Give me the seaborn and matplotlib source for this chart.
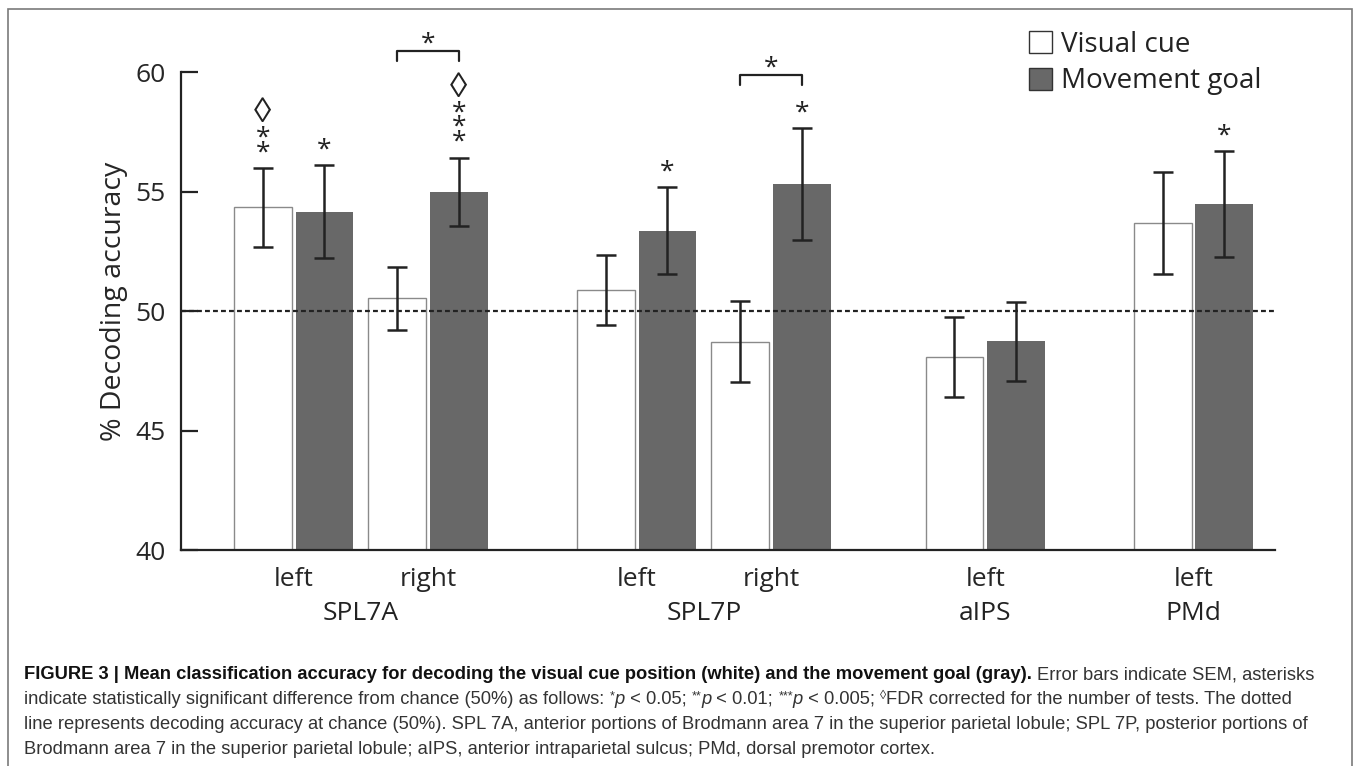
import numpy as np
import pandas as pd
import matplotlib
matplotlib.use("Agg")
import matplotlib.pyplot as plt
from matplotlib.patches import Patch, Rectangle
from matplotlib.lines import Line2D
import seaborn as sns

# Data
regions = ["SPL7A", "SPL7A", "SPL7P", "SPL7P", "aIPS", "PMd"]
hemispheres = ["left", "right", "left", "right", "left", "left"]
visual_mean = [54.34, 50.54, 50.87, 48.72, 48.08, 53.68]
visual_sem = [1.65, 1.31, 1.47, 1.70, 1.67, 2.13]
movement_mean = [54.17, 54.99, 53.36, 55.33, 48.73, 54.49]
movement_sem = [1.93, 1.44, 1.82, 2.34, 1.65, 2.22]

# significance marks: number of asterisks, FDR diamond
visual_stars = [2, 0, 0, 0, 0, 0]
visual_fdr = [True, False, False, False, False, False]
movement_stars = [1, 3, 1, 1, 0, 1]
movement_fdr = [False, True, False, False, False, False]
pair_diff = [False, True, False, True, False, False]

chance = 50
conditions = ["Visual cue", "Movement goal"]

# layout (x position of each bar pair)
positions = [0, 1, 2.554, 3.554, 5.15, 6.70]

FONT = ["Open Sans", "DejaVu Sans"]
CAP_FONT = ["Liberation Sans Narrow", "Liberation Sans", "DejaVu Sans"]
DIAMOND_FONT = ["Liberation Sans", "DejaVu Sans"]

sns.set_theme(style="white")
plt.rcParams["font.family"] = FONT
plt.rcParams["text.color"] = "#222222"

W, H = 1354, 766
fig = plt.figure(figsize=(W / 100, H / 100), dpi=100)
ax = fig.add_axes([180.7 / W, 1 - 550 / H, (1275 - 180.7) / W, (550 - 72.3) / H])

df = pd.DataFrame({
    "pos": positions * 2,
    "value": visual_mean + movement_mean,
    "condition": [conditions[0]] * 6 + [conditions[1]] * 6,
})

sns.barplot(data=df, x="pos", y="value", hue="condition", hue_order=conditions,
            palette={conditions[0]: "white", conditions[1]: "#686868"},
            native_scale=True, width=0.918, gap=0.063, saturation=1,
            errorbar=None, legend=False, ax=ax)

patches = ax.patches
for p in patches[:6]:
    p.set_edgecolor("#8a8a8a")
    p.set_linewidth(1.0)
for p in patches[6:12]:
    p.set_edgecolor("none")

ax.set_ylim(40, 60)
ax.set_xlim(-0.841, 7.307)

vis_x = [p.get_x() + p.get_width() / 2 for p in patches[:6]]
mov_x = [p.get_x() + p.get_width() / 2 for p in patches[6:12]]

err_kw = dict(fmt="none", ecolor="#222222", elinewidth=1.8, capsize=7.5, capthick=1.8, zorder=4)
ax.errorbar(vis_x, visual_mean, yerr=visual_sem, **err_kw)
ax.errorbar(mov_x, movement_mean, yerr=movement_sem, **err_kw)

# chance line
ax.axhline(chance, color="#222222", lw=1.6, ls=(0, (2.2, 1.4)), zorder=5)

# axes styling
for s in ["top", "right"]:
    ax.spines[s].set_visible(False)
for s in ["left", "bottom"]:
    ax.spines[s].set_color("#222222")
    ax.spines[s].set_linewidth(1.6)
ax.set_yticks([40, 45, 50, 55, 60])
ax.tick_params(axis="y", direction="in", length=12, width=1.6, color="#222222",
               labelsize=19, pad=11, left=True)
ax.set_xticks(positions)
ax.set_xticklabels(hemispheres)
ax.tick_params(axis="x", length=0, labelsize=19, pad=12)
ax.set_xlabel("")
ax.set_ylabel("% Decoding accuracy", fontsize=20.5)
ax.yaxis.set_label_coords(-0.048, 0.52)

# region labels under the hemisphere labels
done = []
for r in regions:
    if r in done:
        continue
    done.append(r)
    xs = [positions[i] for i in range(len(regions)) if regions[i] == r]
    ax.annotate(r, xy=(np.mean(xs), 0), xycoords=("data", "axes fraction"),
                xytext=(0, -37), textcoords="offset points",
                ha="center", va="top", fontsize=19)

# significance marks, offsets in points above the error bar top
STAR_GAP = 14.4      # first star centre above bar
STAR_STEP = 10.6     # centre to centre
STAR_RAISE = 8.1     # glyph centre above its baseline
DIAMOND_GAP = 17.5


def marks(x, top, n_stars, fdr):
    last = None
    if n_stars:
        # multi-line text: baseline refers to the bottom line
        ax.annotate("\n".join(["*"] * n_stars), xy=(x, top),
                    xytext=(0, STAR_GAP - STAR_RAISE), textcoords="offset points",
                    ha="center", va="baseline", fontsize=19, linespacing=0.46,
                    annotation_clip=False)
        last = STAR_GAP + STAR_STEP * (n_stars - 1)
    if fdr:
        d = (last if last is not None else STAR_GAP) + DIAMOND_GAP
        ax.annotate("\u25ca", xy=(x, top), xytext=(0, d - 2.5),
                    textcoords="offset points", ha="center", va="center",
                    fontsize=25, family=DIAMOND_FONT, annotation_clip=False)
        last = d
    return last


ppu = (550 - 72.3) / 20.0  # pixels per data unit
for i in range(6):
    vt = visual_mean[i] + visual_sem[i]
    mt = movement_mean[i] + movement_sem[i]
    marks(vis_x[i], vt, visual_stars[i], visual_fdr[i])
    top_m = marks(mov_x[i], mt, movement_stars[i], movement_fdr[i])
    if pair_diff[i]:
        yb = mt + (top_m / 0.72 + 33) / ppu
        ye = yb - 10.5 / ppu
        ax.add_line(Line2D([vis_x[i], vis_x[i], mov_x[i], mov_x[i]], [ye, yb, yb, ye],
                           color="#222222", lw=1.6, clip_on=False))
        ax.annotate("*", xy=((vis_x[i] + mov_x[i]) / 2, yb), xytext=(0, 8.1 - STAR_RAISE),
                    textcoords="offset points", ha="center", va="baseline",
                    fontsize=19, annotation_clip=False)

# legend
handles = [Patch(facecolor="white", edgecolor="#333333", lw=1.0, label=conditions[0]),
           Patch(facecolor="#686868", edgecolor="#333333", lw=1.0, label=conditions[1])]
fig.legend(handles=handles, loc="upper left", bbox_to_anchor=(1029 / W, 1 - 31 / H),
           frameon=False, fontsize=20, handlelength=0.82, handleheight=0.85,
           handletextpad=0.33, labelspacing=0.3, borderpad=0, borderaxespad=0)

# frame around figure + caption
fig.patches.append(Rectangle((8 / W, -0.01), (1352 - 8) / W, 1.01 - 9 / H,
                             transform=fig.transFigure, fill=False,
                             edgecolor="#7a7a7a", lw=1.2))

renderer = fig.canvas.get_renderer()
CAP_SIZE = 13.25


def runs(x0, y0, items):
    x = x0
    for text, style in items:
        kw = dict(fontsize=CAP_SIZE, family=CAP_FONT, color="#333333", va="baseline", ha="left")
        dy = 0
        if style == "bold":
            kw.update(weight="bold", color="#111111")
        elif style == "it":
            kw.update(style="italic")
        elif style == "sup":
            kw.update(fontsize=9)
            dy = 5 / H
        elif style == "supd":
            kw.update(fontsize=9, family=DIAMOND_FONT)
            dy = 5 / H
        t = fig.text(x, y0 + dy, text, **kw)
        bb = t.get_window_extent(renderer)
        x += bb.width / W


lx = 24 / W
runs(lx, 1 - 679 / H, [
    ("FIGURE 3 | Mean classification accuracy for decoding the visual cue position (white) "
     "and the movement goal (gray). ", "bold"),
    ("Error bars indicate SEM, asterisks", "reg")])
runs(lx, 1 - 704 / H, [
    ("indicate statistically significant difference from chance (50%) as follows: ", "reg"),
    ("*", "sup"), ("p", "it"), (" < 0.05; ", "reg"),
    ("**", "sup"), ("p", "it"), (" < 0.01; ", "reg"),
    ("***", "sup"), ("p", "it"), (" < 0.005; ", "reg"),
    ("\u25ca", "supd"), ("FDR corrected for the number of tests. The dotted", "reg")])
runs(lx, 1 - 729 / H, [
    ("line represents decoding accuracy at chance (50%). SPL 7A, anterior portions of Brodmann "
     "area 7 in the superior parietal lobule; SPL 7P, posterior portions of", "reg")])
runs(lx, 1 - 754 / H, [
    ("Brodmann area 7 in the superior parietal lobule; aIPS, anterior intraparietal sulcus; "
     "PMd, dorsal premotor cortex.", "reg")])

fig.savefig("out.png", dpi=100)
